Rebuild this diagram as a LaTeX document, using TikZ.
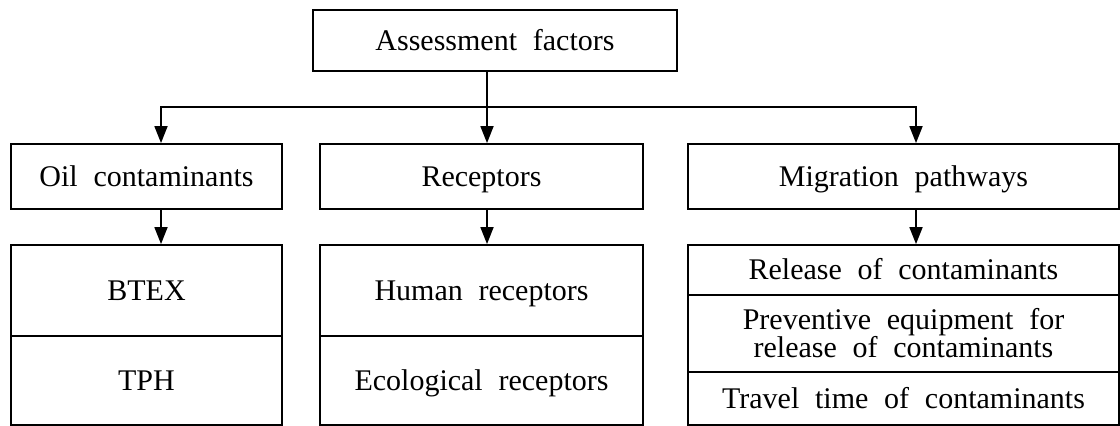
\documentclass[tikz,border=0pt]{standalone}
\usepackage{fontspec}
\setmainfont[WordSpace=2.1]{Liberation Serif}
\usepackage{tikz}
\usetikzlibrary{arrows.meta, positioning}

\begin{document}
\begin{tikzpicture}[
  x=1pt, y=1pt,
  box/.style={draw, line width=1.8pt, inner sep=0pt, align=center, text height=20pt, text depth=0pt, font=\fontsize{30}{28}\selectfont},
  arrow/.style={-{Triangle[length=17pt, width=13pt]}, line width=1.8pt}
]
\useasboundingbox (0, 0) rectangle (1120, 426);

% Top level
\node[box, minimum width=364, minimum height=61] (top) at (495, 385.5) {Assessment factors};

% Second level
\node[box, minimum width=271, minimum height=65] (oil) at (146.5, 249.5) {Oil contaminants};
\node[box, minimum width=323, minimum height=65] (rec) at (481.5, 249.5) {Receptors};
\node[box, minimum width=431, minimum height=65] (mig) at (903.5, 249.5) {Migration pathways};

% Third level: oil contaminants
\node[box, minimum width=271, minimum height=91] (btex) at (146.5, 135.5) {BTEX};
\node[box, minimum width=271, minimum height=89] (tph) at (146.5, 45.5) {TPH};

% Third level: receptors
\node[box, minimum width=323, minimum height=91] (human) at (481.5, 135.5) {Human receptors};
\node[box, minimum width=323, minimum height=89] (eco) at (481.5, 45.5) {Ecological receptors};

% Third level: migration pathways
\node[box, minimum width=431, minimum height=50] (release) at (903.5, 156) {Release of contaminants};
\node[box, minimum width=431, minimum height=77, text height={}, text depth={}] (prevent) at (903.5, 92.5) {Preventive equipment for\\release of contaminants};
\node[box, minimum width=431, minimum height=53] (travel) at (903.5, 27.5) {Travel time of contaminants};

% Branching arrows
\coordinate (split) at (487, 319);
\draw[arrow] (top.south -| split) -- (split |- rec.north);
\draw[arrow] (split) -| ([xshift=14.5pt]oil.north);
\draw[arrow] (split) -| ([xshift=12.5pt]mig.north);

% Down to the factor lists
\draw[arrow] ([xshift=14.5pt]oil.south) -- ([xshift=14.5pt]btex.north);
\draw[arrow] ([xshift=5.5pt]rec.south) -- ([xshift=5.5pt]human.north);
\draw[arrow] ([xshift=12.5pt]mig.south) -- ([xshift=12.5pt]release.north);

\end{tikzpicture}
\end{document}
